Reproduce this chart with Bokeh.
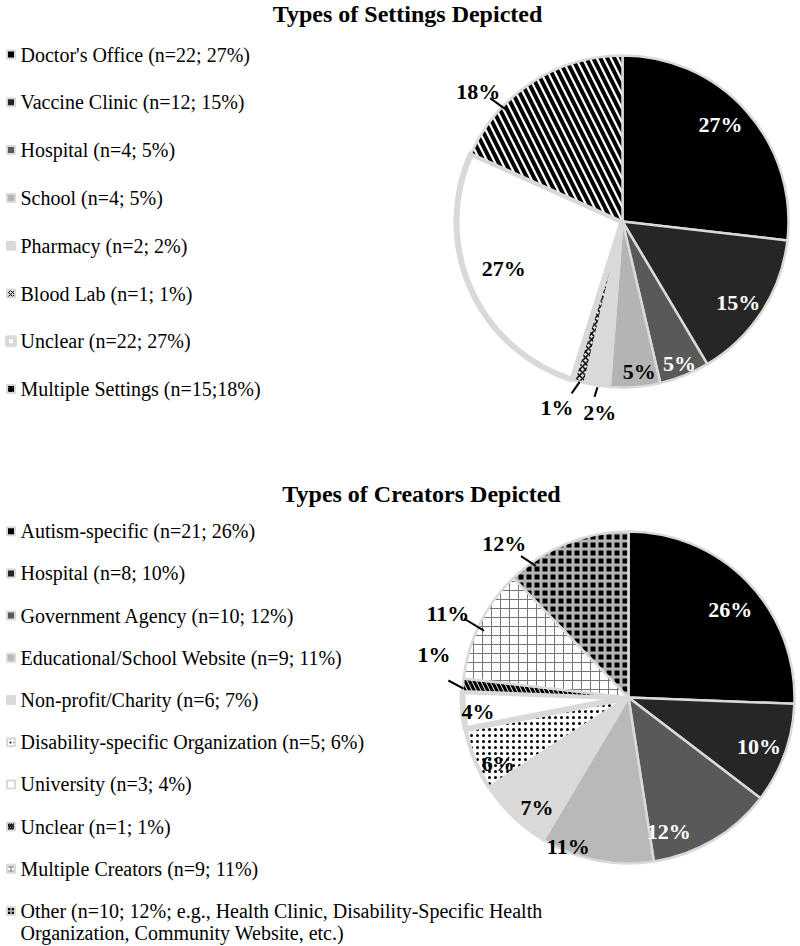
import math
from bokeh.plotting import figure
from bokeh.models import Range1d
from bokeh.core.properties import value
from bokeh.embed import file_html
from bokeh.resources import INLINE

# ---------------- data ----------------
settings_title = "Types of Settings Depicted"
settings_labels = [
    "Doctor's Office (n=22; 27%)",
    "Vaccine Clinic (n=12; 15%)",
    "Hospital (n=4; 5%)",
    "School (n=4; 5%)",
    "Pharmacy (n=2; 2%)",
    "Blood Lab (n=1; 1%)",
    "Unclear (n=22; 27%)",
    "Multiple Settings (n=15;18%)",
]
settings_counts = [22, 12, 4, 4, 2, 1, 22, 15]
settings_pct = ["27%", "15%", "5%", "5%", "2%", "1%", "27%", "18%"]

creators_title = "Types of Creators Depicted"
creators_labels = [
    ["Autism-specific (n=21; 26%)"],
    ["Hospital (n=8; 10%)"],
    ["Government Agency (n=10; 12%)"],
    ["Educational/School Website (n=9; 11%)"],
    ["Non-profit/Charity (n=6; 7%)"],
    ["Disability-specific Organization (n=5; 6%)"],
    ["University (n=3; 4%)"],
    ["Unclear (n=1; 1%)"],
    ["Multiple Creators (n=9; 11%)"],
    ["Other (n=10; 12%; e.g., Health Clinic, Disability-Specific Health",
     "Organization, Community Website, etc.)"],
]
creators_counts = [21, 8, 10, 9, 6, 5, 3, 1, 9, 10]
creators_pct = ["26%", "10%", "12%", "11%", "7%", "6%", "4%", "1%", "11%", "12%"]

# ---------------- styles ----------------
FONT = value("Liberation Serif")
BORDER = "#d9d9d9"
H = 946  # page height, data y = H - page y

def Y(yimg):
    return H - yimg

set_style = dict(
    fill=["#000000", "#262626", "#595959", "#b4b4b4", "#d9d9d9", "#d9d9d9", "#ffffff", "#ffffff"],
    hatch=[None, None, None, None, None, "x", None, "\\"],
    hatch_color=["black"] * 8,
    hatch_weight=[1, 1, 1, 1, 1, 1.5, 1, 4],
    hatch_scale=[8, 8, 8, 8, 8, 6, 8, 14],
    line_width=[2.5, 2.5, 2.5, 2.5, 2.5, 2.5, 6, 2.5],
    marker_line=[2, 2, 2, 2, 2, 2, 4, 2],
    label_color=["white", "white", "white", "black", "black", "black", "black", "black"],
    label_r=[0.83, 0.85, 0.92, 0.91, 1.16, 1.19, 0.77, 1.17],
    label_nudge=[-3, 2, 0, -2, -2, 4, 2.5, -15],
    # index: (angle nudge A, radius A, angle nudge B, radius B)
    leaders={4: (0.3, 1.07, -0.2, 1.01), 5: (1.1, 1.08, -0.4, 1.0), 7: (-14.1, 1.09, -13.1, 0.96)},
)

cre_style = dict(
    fill=["#000000", "#262626", "#595959", "#b9b9b9", "#dadada", "#ffffff", "#ffffff", "#d9d9d9", "#ffffff", "#000000"],
    hatch=[None, None, None, None, None, ".", None, "\\", "+", "+"],
    hatch_color=["black", "black", "black", "black", "black", "black", "black", "black", "#777777", "#b5b5b5"],
    hatch_weight=[1, 1, 1, 1, 1, 1.2, 1, 3, 1, 3],
    hatch_scale=[8, 8, 8, 8, 8, 6, 8, 9, 9, 8],
    line_width=[2.5, 2.5, 2.5, 2.5, 2.5, 4, 6, 2.5, 2.5, 2.5],
    marker_line=[2] * 10,
    label_color=["white", "white", "white", "black", "black", "black", "black", "black", "black", "black"],
    label_r=[0.81, 0.84, 0.84, 0.97, 0.86, 0.88, 0.91, 1.2, 1.2, 1.19],
    label_nudge=[3, 1, 14, 11, -4, -5, -1, 8, -1.4, -17],
    leaders={7: (1.0, 1.09, -1.3, 0.995), 8: (-0.7, 1.10, -1.5, 0.96), 9: (-15.3, 1.07, -13.2, 0.97)},
)

p = figure(width=796, height=946, x_range=Range1d(0, 796), y_range=Range1d(0, 946),
           output_backend="svg", toolbar_location=None, min_border=0,
           x_axis_location=None, y_axis_location=None)
p.grid.visible = False
p.outline_line_color = None
p.background_fill_color = "white"
p.border_fill_color = "white"


def polar(cx, cy, R, deg, rf):
    a = math.radians(deg)
    return cx + rf * R * math.sin(a), cy + rf * R * math.cos(a)


def draw_pie(cx, cy_img, R, counts, pct, st):
    total = float(sum(counts))
    cy = Y(cy_img)
    cum = 0.0
    lx, ly, lt, lc = [], [], [], []
    segs = ([], [], [], [])
    for i, c in enumerate(counts):
        a0 = cum / total * 360.0
        cum += c
        a1 = cum / total * 360.0
        start = math.radians(90 - a0)
        end = math.radians(90 - a1)
        kw = {}
        if st["hatch"][i]:
            kw = dict(hatch_pattern=st["hatch"][i], hatch_color=st["hatch_color"][i],
                      hatch_weight=st["hatch_weight"][i], hatch_scale=st["hatch_scale"][i])
        p.wedge(x=cx, y=cy, radius=R, start_angle=start, end_angle=end, direction="clock",
                fill_color=st["fill"][i], line_color=BORDER, line_width=st["line_width"][i], **kw)
        mid = (a0 + a1) / 2.0
        x, y = polar(cx, cy, R, mid + st["label_nudge"][i], st["label_r"][i])
        lx.append(x)
        ly.append(y)
        lt.append(pct[i])
        lc.append(st["label_color"][i])
        if i in st["leaders"]:
            na, ra, nb, rb = st["leaders"][i]
            xa, ya = polar(cx, cy, R, mid + na, ra)
            xb, yb = polar(cx, cy, R, mid + nb, rb)
            segs[0].append(xa)
            segs[1].append(ya)
            segs[2].append(xb)
            segs[3].append(yb)
    p.segment(x0=segs[0], y0=segs[1], x1=segs[2], y1=segs[3], line_color="black", line_width=2)
    p.text(x=lx, y=ly, text=lt, text_color=lc, text_font=FONT, text_font_size="22px",
           text_font_style="bold", text_align="center", text_baseline="middle")


def draw_legend(y0_img, step, line_step, labels, st):
    y_img = y0_img
    for i, lab in enumerate(labels):
        lines = lab if isinstance(lab, list) else [lab]
        kw = {}
        if st["hatch"][i]:
            kw = dict(hatch_pattern=st["hatch"][i], hatch_color=st["hatch_color"][i],
                      hatch_weight=max(1, st["hatch_weight"][i] * 0.5), hatch_scale=4)
        p.rect(x=10.5, y=Y(y_img), width=8, height=8, width_units="screen", height_units="screen",
               fill_color=st["fill"][i], line_color=BORDER, line_width=st["marker_line"][i], **kw)
        p.text(x=[20] * len(lines), y=[Y(y_img + k * line_step) for k in range(len(lines))],
               text=lines, text_color="black", text_font=FONT, text_font_size="20px",
               text_align="left", text_baseline="middle")
        y_img += step


# titles
p.text(x=[407], y=[Y(13)], text=[settings_title], text_font=FONT, text_font_size="24px",
       text_font_style="bold", text_align="center", text_baseline="middle", text_color="black")
p.text(x=[421], y=[Y(493)], text=[creators_title], text_font=FONT, text_font_size="24px",
       text_font_style="bold", text_align="center", text_baseline="middle", text_color="black")

draw_pie(622, 221, 166, settings_counts, settings_pct, set_style)
draw_pie(628, 697, 166, creators_counts, creators_pct, cre_style)

draw_legend(54, 47.8, 21.7, settings_labels, set_style)
draw_legend(530.7, 42.2, 21.7, creators_labels, cre_style)

open("out.html", "w").write(file_html(p, INLINE))
